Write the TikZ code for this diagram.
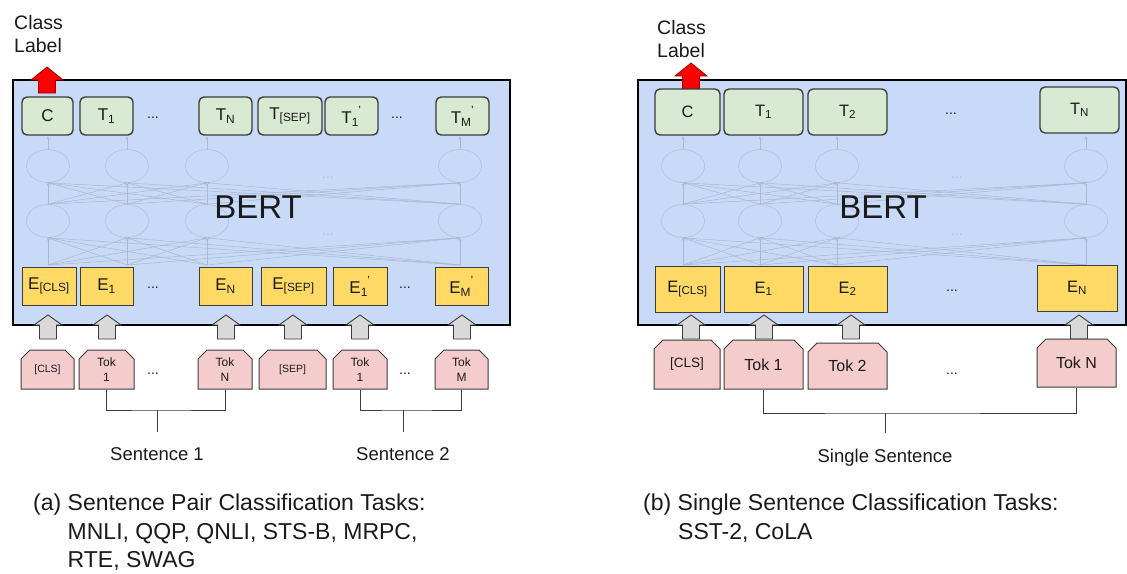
\documentclass[tikz,border=0pt]{standalone}
\usepackage{fontspec}
\setmainfont{Liberation Sans}
\usetikzlibrary{shapes.misc,shapes.geometric,arrows.meta}
\definecolor{bertblue}{HTML}{C9DAF8}
\definecolor{tgreen}{HTML}{D9EAD3}
\definecolor{eyellow}{HTML}{FFD966}
\definecolor{tokpink}{HTML}{F4CCCC}
\definecolor{arrgray}{HTML}{D9D9D9}
\definecolor{edgegray}{HTML}{3C3C3C}
\definecolor{faintline}{HTML}{AAB7CF}
\definecolor{faintcirc}{HTML}{B5C2DA}
\definecolor{redfill}{HTML}{FF0000}
\definecolor{redline}{HTML}{A00000}
\definecolor{txt}{HTML}{1A1A1A}
\newcommand\fsz[2]{\fontsize{#1}{#2}\selectfont}
\newcommand\subprime[1]{\textsubscript{#1}\kern-0.5pt\raisebox{0.35ex}{\textsuperscript{'}}}
\tikzset{
  bertbox/.style={rectangle, draw=black, line width=2.2pt, fill=bertblue, inner sep=0pt},
  tbox/.style={rectangle, draw=edgegray, line width=1.4pt, fill=tgreen, rounded corners=5pt, inner sep=0pt, text=txt},
  ebox/.style={rectangle, draw=edgegray, line width=1pt, fill=eyellow, inner sep=0pt, text=txt},
  tokbox/.style={chamfered rectangle, chamfered rectangle corners={north west,north east},
    chamfered rectangle xsep=4.5pt, chamfered rectangle ysep=4.5pt, draw=edgegray, line width=1pt,
    fill=tokpink, inner sep=0pt, text=txt, align=center},
  neuron/.style={ellipse, draw=faintcirc, line width=0.7pt, minimum width=43pt, minimum height=33pt, inner sep=0pt},
  faintarr/.style={draw=faintline, line width=0.5pt, -{Stealth[length=3pt,width=2.5pt]}},
  dotlbl/.style={text=txt, font=\fsz{14}{14}, inner sep=0pt},
  faintdots/.style={text=faintcirc, font=\fsz{14}{14}, inner sep=0pt},
  bracket/.style={draw=edgegray, line width=1pt},
  lbl/.style={text=txt, font=\fsz{18.5}{22}, inner sep=0pt},
  bertlbl/.style={text=txt, font=\fsz{33}{33}, inner sep=0pt},
  upgray/.pic={\draw[draw=edgegray, line width=0.9pt, fill=arrgray] (0,0) -- (14,10) -- (8.5,10) -- (8.5,24) -- (-8.5,24) -- (-8.5,10) -- (-14,10) -- cycle;},
  upred/.pic={\draw[draw=redline, line width=0.8pt, fill=redfill] (0,0) -- (16,13) -- (8.5,13) -- (8.5,26) -- (-8.5,26) -- (-8.5,13) -- (-16,13) -- cycle;}
}
\begin{document}
\begin{tikzpicture}[x=1pt,y=-1pt]
\useasboundingbox (0,0) rectangle (1127,573);

% ================= LEFT PANEL =================
\node[anchor=north west, align=left, font=\fsz{19.5}{23}, text=txt, inner sep=0pt] (lclass) at (14,15) {Class\\Label};
\node[bertbox, minimum width=497pt, minimum height=245pt] (lbert) at (261.5,202.5) {};

% faint network
\foreach \i/\x in {1/48,2/127,3/207,4/460} {
  \node[neuron] (lu\i) at (\x,166) {};
  \node[neuron] (ll\i) at (\x,221) {};
  \coordinate (lb\i) at (\x,265);
}
\foreach \i in {1,...,4} {
  \draw[faintarr] (lu\i.north) -- ++(0,-13);
  \foreach \j in {1,...,4} {
    \draw[faintarr] (ll\i.north) -- (lu\j.south);
    \draw[faintarr] (lb\i) -- (ll\j.south);
  }
}
\node[faintdots] (lfd1) at (328,178) {...};
\node[faintdots] (lfd2) at (328,235) {...};
\node[bertlbl] (lbertlbl) at (258,207) {BERT};

\pic at (47,67) {upred};

% T row
\node[tbox, minimum width=51pt, minimum height=38pt, font=\fsz{17}{17}] (lC) at (47.5,116) {C};
\node[tbox, minimum width=53pt, minimum height=38pt, font=\fsz{17}{17}] (lT1) at (106.5,116) {T\textsubscript{1}};
\node[dotlbl] (ltd1) at (153,118) {...};
\node[tbox, minimum width=53pt, minimum height=38pt, font=\fsz{17}{17}] (lTN) at (225.5,116) {T\textsubscript{N}};
\node[tbox, minimum width=64pt, minimum height=38pt, font=\fsz{17}{17}] (lTS) at (290,116) {T\textsubscript{[SEP]}};
\node[tbox, minimum width=53pt, minimum height=38pt, font=\fsz{17}{17}] (lT1p) at (351.5,116) {T\subprime{1}};
\node[dotlbl] (ltd2) at (397,118) {...};
\node[tbox, minimum width=53pt, minimum height=38pt, font=\fsz{17}{17}] (lTMp) at (462.5,116) {T\subprime{M}};

% E row
\node[ebox, minimum width=54pt, minimum height=38pt, font=\fsz{17}{17}] (lEC) at (49,286) {E\textsubscript{[CLS]}};
\node[ebox, minimum width=53pt, minimum height=38pt, font=\fsz{17}{17}] (lE1) at (106.5,286) {E\textsubscript{1}};
\node[dotlbl] (led1) at (153,288) {...};
\node[ebox, minimum width=53pt, minimum height=38pt, font=\fsz{17}{17}] (lEN) at (225.5,286) {E\textsubscript{N}};
\node[ebox, minimum width=65pt, minimum height=38pt, font=\fsz{17}{17}] (lES) at (293.5,286) {E\textsubscript{[SEP]}};
\node[ebox, minimum width=54pt, minimum height=38pt, font=\fsz{17}{17}] (lE1p) at (360,286) {E\subprime{1}};
\node[dotlbl] (led2) at (405,288) {...};
\node[ebox, minimum width=53pt, minimum height=38pt, font=\fsz{17}{17}] (lEMp) at (461.5,286) {E\subprime{M}};

% gray arrows
\foreach \x in {48,107,226,293,360,462} { \pic at (\x,315) {upgray}; }

% Tok row
\node[tokbox, minimum width=53pt, minimum height=39pt, font=\fsz{10.5}{13}] (lKC) at (47.5,369.5) {[CLS]};
\node[tokbox, minimum width=55pt, minimum height=39pt, font=\fsz{12}{15}] (lK1) at (106.5,369.5) {Tok\\1};
\node[dotlbl] (lkd1) at (153,374) {...};
\node[tokbox, minimum width=54pt, minimum height=39pt, font=\fsz{12}{15}] (lKN) at (225,369.5) {Tok\\N};
\node[tokbox, minimum width=67pt, minimum height=39pt, font=\fsz{10.5}{13}] (lKS) at (292.5,369.5) {[SEP]};
\node[tokbox, minimum width=54pt, minimum height=39pt, font=\fsz{12}{15}] (lK1p) at (360,369.5) {Tok\\1};
\node[dotlbl] (lkd2) at (405,374) {...};
\node[tokbox, minimum width=53pt, minimum height=39pt, font=\fsz{12}{15}] (lKM) at (461.5,369.5) {Tok\\M};

% brackets
\coordinate (ls1stem) at (157,410);
\coordinate (ls1end) at (157,432);
\draw[bracket] (lK1.south) |- (ls1stem) -| (lKN.south);
\draw[bracket] (ls1stem) -- (ls1end);
\node[lbl, anchor=base] (ls1) at (157,460) {Sentence 1};
\coordinate (ls2stem) at (403,410);
\coordinate (ls2end) at (403,432);
\draw[bracket] (lK1p.south) |- (ls2stem) -| (lKM.south);
\draw[bracket] (ls2stem) -- (ls2end);
\node[lbl, anchor=base] (ls2) at (403,460) {Sentence 2};

\node[anchor=north west, align=left, font=\fsz{23}{28.5}, text=txt, inner sep=0pt] (lcap) at (33,494)
  {(a) Sentence Pair Classification Tasks:\\\hspace*{34.5pt}MNLI, QQP, QNLI, STS-B, MRPC,\\\hspace*{34.5pt}RTE, SWAG};

% ================= RIGHT PANEL =================
\node[anchor=north west, align=left, font=\fsz{19.5}{23}, text=txt, inner sep=0pt] (rclass) at (657,20) {Class\\Label};
\node[bertbox, minimum width=488pt, minimum height=245pt] (rbert) at (882,202.5) {};

\foreach \i/\x in {1/683,2/760,3/837,4/1086} {
  \node[neuron] (ru\i) at (\x,166) {};
  \node[neuron] (rl\i) at (\x,221) {};
  \coordinate (rb\i) at (\x,265);
}
\foreach \i in {1,...,4} {
  \draw[faintarr] (ru\i.north) -- ++(0,-13);
  \foreach \j in {1,...,4} {
    \draw[faintarr] (rl\i.north) -- (ru\j.south);
    \draw[faintarr] (rb\i) -- (rl\j.south);
  }
}
\node[faintdots] (rfd1) at (957,178) {...};
\node[faintdots] (rfd2) at (957,235) {...};
\node[bertlbl] (rbertlbl) at (883,207) {BERT};

\pic at (691,63) {upred};

\node[tbox, minimum width=65pt, minimum height=46pt, font=\fsz{16.5}{17}] (rC) at (687.5,112) {C};
\node[tbox, minimum width=79pt, minimum height=46pt, font=\fsz{16.5}{17}] (rT1) at (763.5,112) {T\textsubscript{1}};
\node[tbox, minimum width=79pt, minimum height=46pt, font=\fsz{16.5}{17}] (rT2) at (847.5,112) {T\textsubscript{2}};
\node[dotlbl] (rtd) at (951,114) {...};
\node[tbox, minimum width=79pt, minimum height=46pt, font=\fsz{16.5}{17}] (rTN) at (1079.5,110) {T\textsubscript{N}};

\node[ebox, minimum width=65pt, minimum height=46pt, font=\fsz{16.5}{17}] (rEC) at (687.5,289) {E\textsubscript{[CLS]}};
\node[ebox, minimum width=79pt, minimum height=46pt, font=\fsz{16.5}{17}] (rE1) at (763.5,289) {E\textsubscript{1}};
\node[ebox, minimum width=79pt, minimum height=46pt, font=\fsz{16.5}{17}] (rE2) at (847.5,289) {E\textsubscript{2}};
\node[dotlbl] (red) at (952,291) {...};
\node[ebox, minimum width=80pt, minimum height=46pt, font=\fsz{16.5}{17}] (rEN) at (1077,288) {E\textsubscript{N}};

\foreach \x in {691,764,851,1079} { \pic at (\x,315) {upgray}; }

\node[tokbox, minimum width=66pt, minimum height=49pt, font=\fsz{13.5}{16}] (rKC) at (687,364.5) {[CLS]};
\node[tokbox, minimum width=79pt, minimum height=49pt, font=\fsz{16}{18}] (rK1) at (763.5,364.5) {Tok 1};
\node[tokbox, minimum width=79pt, minimum height=46pt, font=\fsz{16}{18}] (rK2) at (847.5,366) {Tok 2};
\node[dotlbl] (rkd) at (952,374) {...};
\node[tokbox, minimum width=79pt, minimum height=48pt, font=\fsz{16}{18}] (rKN) at (1076.5,363) {Tok N};

\coordinate (rsstem) at (885,413);
\coordinate (rsend) at (885,433);
\draw[bracket] (rK1.south) |- (rsstem) -| (rKN.south);
\draw[bracket] (rsstem) -- (rsend);
\node[lbl, anchor=base] (rs) at (885,462) {Single Sentence};

\node[anchor=north west, align=left, font=\fsz{23}{28.5}, text=txt, inner sep=0pt] (rcap) at (643,494)
  {(b) Single Sentence Classification Tasks:\\\hspace*{35pt}SST-2, CoLA};
\end{tikzpicture}
\end{document}
